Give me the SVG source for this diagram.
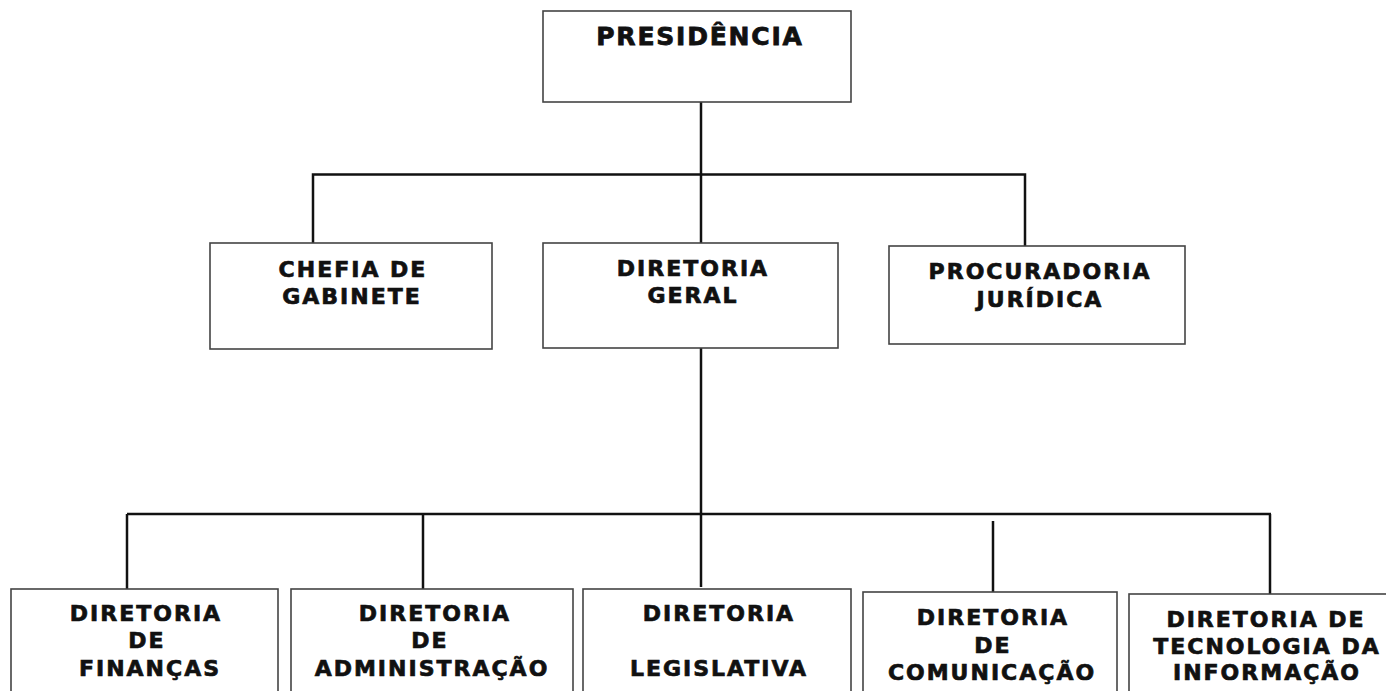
<svg xmlns="http://www.w3.org/2000/svg" width="1386" height="691" viewBox="0 0 1386 691">
<style>
.box{fill:#fff;stroke:#444;stroke-width:1.6}
.t{font-family:"DejaVu Sans","Verdana",sans-serif;font-weight:bold;font-size:22px;letter-spacing:2px;fill:#111;stroke:#111;stroke-width:0.7;text-anchor:middle}
.big{font-size:25px;letter-spacing:1.8px;stroke-width:0.8}
.c{stroke:#111;stroke-width:2.5;fill:none}
</style>
<rect width="1386" height="691" fill="#fff"/>
<g id="connectors">
<line class="c" x1="701" y1="102" x2="701" y2="243"/>
<polyline class="c" points="313,243 313,174.5 1025,174.5 1025,246"/>
<line class="c" x1="701" y1="348" x2="701" y2="587"/>
<line class="c" x1="127" y1="514" x2="1271" y2="514"/>
<line class="c" x1="127" y1="514" x2="127" y2="589"/>
<line class="c" x1="423" y1="514" x2="423" y2="589"/>
<line class="c" x1="993" y1="521" x2="993" y2="592"/>
<line class="c" x1="1270" y1="514" x2="1270" y2="594"/>
</g>
<g id="presidencia">
<rect class="box" x="543" y="11" width="308" height="91"/>
<text class="t big" x="700" y="45">PRESIDÊNCIA</text>
</g>
<g id="chefia">
<rect class="box" x="210" y="243" width="282" height="106"/>
<text class="t" x="353" y="277">CHEFIA DE</text>
<text class="t" x="352" y="304">GABINETE</text>
</g>
<g id="diretoria-geral">
<rect class="box" x="543" y="243" width="295" height="105"/>
<text class="t" x="693" y="276">DIRETORIA</text>
<text class="t" x="693" y="303">GERAL</text>
</g>
<g id="procuradoria">
<rect class="box" x="889" y="246" width="296" height="98"/>
<text class="t" x="1040" y="279">PROCURADORIA</text>
<text class="t" x="1040" y="307">JURÍDICA</text>
</g>
<g id="financas">
<rect class="box" x="11" y="589" width="267" height="110"/>
<text class="t" x="146" y="621">DIRETORIA</text>
<text class="t" x="147" y="648">DE</text>
<text class="t" x="150" y="676">FINANÇAS</text>
</g>
<g id="administracao">
<rect class="box" x="291" y="589" width="282" height="110"/>
<text class="t" x="435" y="621">DIRETORIA</text>
<text class="t" x="430" y="648">DE</text>
<text class="t" x="432" y="676">ADMINISTRAÇÃO</text>
</g>
<g id="legislativa">
<rect class="box" x="583" y="589" width="268" height="110"/>
<text class="t" x="719" y="621">DIRETORIA</text>
<text class="t" x="719" y="676">LEGISLATIVA</text>
</g>
<g id="comunicacao">
<rect class="box" x="863" y="592" width="254" height="110"/>
<text class="t" x="993" y="625">DIRETORIA</text>
<text class="t" x="993" y="653">DE</text>
<text class="t" x="992" y="680">COMUNICAÇÃO</text>
</g>
<g id="tecnologia">
<rect class="box" x="1129" y="594" width="262" height="110"/>
<text class="t" x="1266" y="627">DIRETORIA DE</text>
<text class="t" x="1267" y="654">TECNOLOGIA DA</text>
<text class="t" x="1267" y="680">INFORMAÇÃO</text>
</g>
</svg>
